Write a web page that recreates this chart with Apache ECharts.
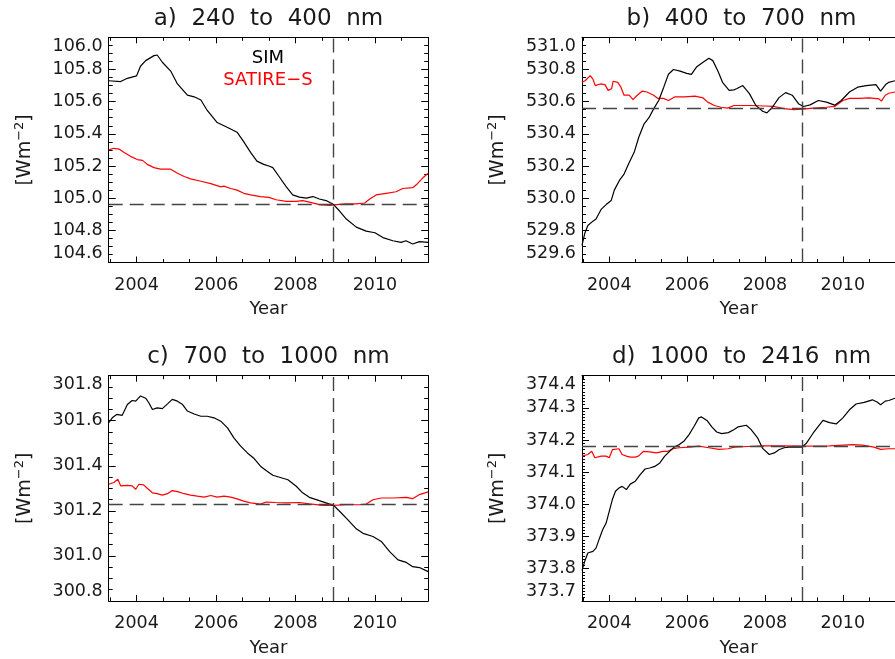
<!DOCTYPE html>
<html>
<head>
<meta charset="utf-8">
<script src="https://cdn.jsdelivr.net/npm/echarts@6.0.0/dist/echarts.min.js"></script>
<style>
html,body{margin:0;padding:0;background:#fff;}
#chart{width:895px;height:659px;}
</style>
</head>
<body>
<div id="chart"></div>
<script>
// ---------------- DATA ----------------
const panelTitles = ['a)  240  to  400  nm', 'b)  400  to  700  nm', 'c)  700  to  1000  nm', 'd)  1000  to  2416  nm'];
const seriesNames = ['SIM', 'SATIRE\u2212S'];
const xLabelYears = [2004, 2006, 2008, 2010];
const xMinorYears = [2003.333, 2004.667, 2005.333, 2006.667, 2007.333, 2008.667, 2009.333, 2010.667];
const xRange = [2003.3, 2011.34];
const yRanges = [[104.6, 106.0], [529.6, 531.0], [300.8, 301.8], [373.7, 374.4]];
const yIntervals = [0.2, 0.2, 0.2, 0.1];
const yMinorSplits = [4, 4, 4, 10];
const refYear = 2008.95;
const refValues = [104.962, 530.557, 301.229, 374.182];

// a) 240 to 400 nm
const aSimX = [2003.30,2003.60,2003.77,2004.00,2004.10,2004.23,2004.44,2004.52,2004.65,2004.86,2005.03,2005.28,2005.45,2005.62,2005.78,2006.03,2006.20,2006.37,2006.53,2006.70,2006.87,2007.03,2007.20,2007.33,2007.43,2007.60,2007.77,2007.93,2008.10,2008.27,2008.44,2008.60,2008.77,2008.96,2009.11,2009.28,2009.53,2009.78,2010.00,2010.20,2010.45,2010.66,2010.78,2010.95,2011.12,2011.34];
const aSimY = [105.73,105.725,105.745,105.76,105.82,105.855,105.886,105.89,105.845,105.79,105.71,105.64,105.63,105.61,105.545,105.47,105.45,105.43,105.41,105.35,105.285,105.23,105.21,105.20,105.19,105.13,105.07,105.02,105.006,105.0,105.01,104.995,104.985,104.96,104.92,104.87,104.82,104.795,104.785,104.755,104.735,104.725,104.735,104.715,104.73,104.725];
const aSatX = [2003.30,2003.43,2003.56,2003.68,2003.85,2004.02,2004.15,2004.27,2004.44,2004.60,2004.86,2005.03,2005.20,2005.36,2005.62,2005.87,2006.12,2006.20,2006.37,2006.53,2006.70,2006.87,2007.12,2007.33,2007.51,2007.77,2008.02,2008.18,2008.35,2008.60,2008.86,2009.03,2009.28,2009.53,2009.74,2009.87,2010.03,2010.28,2010.53,2010.70,2010.95,2011.07,2011.20,2011.34];
const aSatY = [105.30,105.31,105.305,105.285,105.26,105.24,105.235,105.21,105.19,105.18,105.18,105.155,105.135,105.12,105.105,105.09,105.07,105.075,105.06,105.05,105.03,105.02,105.01,105.005,104.99,104.98,104.98,104.985,104.975,104.96,104.955,104.96,104.965,104.965,104.97,104.995,105.02,105.03,105.04,105.06,105.065,105.09,105.125,105.155];

// b) 400 to 700 nm
const bSimX = [2003.30,2003.37,2003.45,2003.58,2003.66,2003.79,2003.92,2004.05,2004.13,2004.26,2004.38,2004.51,2004.64,2004.76,2004.89,2005.02,2005.14,2005.27,2005.40,2005.52,2005.65,2005.82,2005.99,2006.11,2006.24,2006.41,2006.56,2006.66,2006.79,2006.91,2007.08,2007.20,2007.27,2007.43,2007.60,2007.77,2007.94,2008.05,2008.19,2008.36,2008.53,2008.70,2008.87,2008.99,2009.16,2009.37,2009.58,2009.79,2009.96,2010.17,2010.38,2010.60,2010.85,2010.97,2011.10,2011.18,2011.34];
const bSimY = [529.706,529.78,529.83,529.857,529.87,529.93,529.96,529.985,530.05,530.11,530.15,530.22,530.285,530.38,530.46,530.50,530.555,530.607,530.69,530.77,530.80,530.79,530.776,530.77,530.815,530.845,530.87,530.855,530.79,530.72,530.67,530.673,530.68,530.70,530.65,530.575,530.54,530.53,530.565,530.625,530.656,530.64,530.585,530.57,530.58,530.607,530.597,530.578,530.607,530.66,530.69,530.70,530.706,530.665,530.706,530.72,530.73];
const bSatX = [2003.30,2003.38,2003.51,2003.58,2003.64,2003.77,2003.89,2003.97,2004.06,2004.10,2004.22,2004.30,2004.38,2004.51,2004.61,2004.72,2004.84,2004.97,2005.14,2005.25,2005.39,2005.52,2005.69,2005.94,2006.20,2006.41,2006.53,2006.70,2006.87,2007.04,2007.20,2007.39,2007.64,2007.98,2008.24,2008.49,2008.74,2008.95,2009.24,2009.58,2009.79,2010.00,2010.17,2010.42,2010.68,2010.93,2010.99,2011.09,2011.18,2011.34];
const bSatY = [530.72,530.73,530.762,530.74,530.70,530.71,530.706,530.67,530.68,530.727,530.72,530.69,530.64,530.64,530.613,530.64,530.665,530.66,530.64,530.62,530.62,530.607,530.63,530.63,530.634,530.623,530.597,530.576,530.565,530.56,530.576,530.576,530.576,530.573,530.57,530.557,530.55,530.553,530.56,530.565,530.57,530.607,530.62,530.62,530.623,530.617,530.603,530.64,530.652,530.66];

// c) 700 to 1000 nm
const cSimX = [2003.30,2003.39,2003.50,2003.64,2003.77,2003.89,2003.98,2004.10,2004.23,2004.31,2004.40,2004.52,2004.65,2004.78,2004.90,2005.03,2005.16,2005.28,2005.45,2005.62,2005.78,2005.95,2006.12,2006.29,2006.45,2006.62,2006.79,2006.96,2007.12,2007.26,2007.43,2007.60,2007.81,2008.02,2008.18,2008.35,2008.60,2008.86,2008.96,2009.11,2009.32,2009.53,2009.70,2009.95,2010.16,2010.37,2010.58,2010.79,2010.95,2011.12,2011.34];
const cSimY = [301.591,301.613,301.628,301.624,301.672,301.69,301.687,301.71,301.70,301.68,301.65,301.657,301.654,301.675,301.695,301.687,301.672,301.643,301.63,301.62,301.62,301.613,301.598,301.568,301.524,301.487,301.457,301.432,301.398,301.379,301.358,301.349,301.338,301.309,301.28,301.26,301.245,301.23,301.224,301.198,301.16,301.12,301.10,301.086,301.064,301.019,300.982,300.971,300.952,300.948,300.93];
const cSatX = [2003.30,2003.43,2003.53,2003.60,2003.77,2003.89,2003.98,2004.06,2004.18,2004.27,2004.40,2004.52,2004.65,2004.78,2004.90,2005.03,2005.20,2005.36,2005.53,2005.70,2005.87,2006.03,2006.20,2006.37,2006.53,2006.70,2006.87,2007.12,2007.26,2007.51,2007.77,2008.10,2008.35,2008.69,2008.94,2009.28,2009.61,2009.78,2009.95,2010.16,2010.45,2010.79,2010.95,2011.12,2011.34];
const cSatY = [301.318,301.326,301.34,301.311,301.313,301.311,301.296,301.318,301.315,301.30,301.28,301.276,301.27,301.276,301.29,301.285,301.276,301.27,301.265,301.261,301.268,301.261,301.265,301.261,301.253,301.243,301.235,301.23,301.239,301.237,301.235,301.237,301.231,301.224,301.224,301.227,301.227,301.23,301.249,301.257,301.257,301.26,301.254,301.272,301.284];

// d) 1000 to 2416 nm
const dSimX = [2003.30,2003.37,2003.45,2003.58,2003.66,2003.75,2003.83,2003.92,2004.00,2004.08,2004.16,2004.25,2004.33,2004.44,2004.54,2004.67,2004.79,2004.92,2005.04,2005.17,2005.30,2005.42,2005.55,2005.67,2005.80,2005.93,2006.05,2006.18,2006.30,2006.37,2006.51,2006.64,2006.76,2006.89,2007.06,2007.21,2007.31,2007.52,2007.64,2007.81,2007.94,2008.11,2008.24,2008.36,2008.49,2008.61,2008.78,2008.95,2009.07,2009.24,2009.41,2009.49,2009.66,2009.83,2010.00,2010.17,2010.34,2010.55,2010.76,2010.88,2010.97,2011.09,2011.18,2011.34];
const dSimY = [373.794,373.823,373.849,373.854,373.864,373.895,373.921,373.942,373.978,374.015,374.041,374.051,374.056,374.046,374.063,374.072,374.092,374.11,374.113,374.118,374.129,374.149,374.165,374.178,374.186,374.198,374.217,374.243,374.269,374.272,374.261,374.24,374.225,374.22,374.223,374.233,374.241,374.246,374.233,374.207,374.174,374.155,374.16,374.17,374.176,374.178,374.178,374.178,374.191,374.222,374.249,374.261,374.254,374.25,374.269,374.294,374.312,374.317,374.325,374.318,374.31,374.321,374.323,374.33];
const dSatX = [2003.30,2003.45,2003.55,2003.63,2003.79,2003.92,2004.00,2004.08,2004.25,2004.33,2004.44,2004.54,2004.67,2004.75,2004.88,2005.04,2005.21,2005.38,2005.51,2005.63,2005.80,2006.05,2006.30,2006.56,2006.81,2007.06,2007.21,2007.56,2007.98,2008.40,2008.95,2009.66,2010.25,2010.50,2010.80,2010.97,2011.18,2011.34];
const dSatY = [374.15,374.155,374.165,374.145,374.15,374.15,374.145,374.17,374.173,374.155,374.15,374.147,374.147,374.15,374.165,374.163,374.16,374.165,374.165,374.173,374.176,374.178,374.181,374.176,374.171,374.173,374.178,374.18,374.182,374.182,374.181,374.182,374.186,374.184,374.178,374.171,374.173,374.173];

// ---------------- LAYOUT / STYLE ----------------
const FONT = 'DejaVu Sans';
const TXT = '#1a1a1a';
const gridBoxes = [
  {left: 108.7, top: 37.3, width: 319.5}, {left: 582, top: 37.3, width: 321},
  {left: 108.7, top: 375.7, width: 319.5}, {left: 582, top: 375.7, width: 321}
];
const GH = 225.2;

const simData = [[aSimX, aSimY], [bSimX, bSimY], [cSimX, cSimY], [dSimX, dSimY]];
const satData = [[aSatX, aSatY], [bSatX, bSatY], [cSatX, cSatY], [dSatX, dSatY]];
const zip = (xs, ys) => xs.map((x, i) => [x, ys[i]]);

const grids = [], xAxes = [], yAxes = [], series = [], graphics = [];
const lineCol = '#000';

gridBoxes.forEach((g, i) => {
  const cutRight = i % 2 === 1;
  grids.push({left: g.left, top: g.top, width: g.width, height: GH, containLabel: false});
  const common = {type: 'value', gridIndex: i, min: xRange[0], max: xRange[1], splitLine: {show: false}};
  xAxes.push(Object.assign({}, common, {
    position: 'bottom',
    axisLine: {show: true, onZero: false, lineStyle: {color: lineCol, width: 1}},
    axisTick: {show: true, inside: true, length: 6, customValues: xLabelYears, lineStyle: {color: lineCol}},
    axisLabel: {show: true, customValues: xLabelYears, margin: 14, fontSize: 17.5, fontFamily: FONT, color: TXT,
      formatter: v => String(Math.round(v))},
    name: 'Year', nameLocation: 'middle', nameGap: 38,
    nameTextStyle: {fontSize: 18, fontFamily: FONT, color: TXT}
  }));
  xAxes.push(Object.assign({}, common, {
    position: 'bottom', axisLine: {show: false, onZero: false},
    axisTick: {show: true, inside: true, length: 3.5, customValues: xMinorYears, lineStyle: {color: lineCol}},
    axisLabel: {show: false}
  }));
  xAxes.push(Object.assign({}, common, {
    position: 'top',
    axisLine: {show: true, onZero: false, lineStyle: {color: lineCol, width: 1}},
    axisTick: {show: true, inside: true, length: 6, customValues: xLabelYears, lineStyle: {color: lineCol}},
    axisLabel: {show: false}
  }));
  xAxes.push(Object.assign({}, common, {
    position: 'top', axisLine: {show: false, onZero: false},
    axisTick: {show: true, inside: true, length: 3.5, customValues: xMinorYears, lineStyle: {color: lineCol}},
    axisLabel: {show: false}
  }));

  const yCommon = {
    type: 'value', gridIndex: i, min: yRanges[i][0], max: yRanges[i][1], interval: yIntervals[i],
    splitLine: {show: false}, minorSplitLine: {show: false},
    axisLine: {show: true, onZero: false, lineStyle: {color: lineCol, width: 1}},
    axisTick: {show: true, inside: true, length: 7, lineStyle: {color: lineCol}},
    minorTick: {show: true, splitNumber: yMinorSplits[i], length: yMinorSplits[i] > 5 ? 3 : 4, lineStyle: {color: lineCol}}
  };
  yAxes.push(Object.assign({}, yCommon, {
    position: 'left',
    axisLabel: {show: true, margin: 6, fontSize: 17.5, fontFamily: FONT, color: TXT,
      verticalAlignMinLabel: 'bottom', verticalAlignMaxLabel: 'top',
      formatter: v => v.toFixed(1)},
    name: '{a|[Wm}{b|\u22122}{a|]}', nameLocation: 'middle', nameRotate: 90, nameGap: 71,
    nameTextStyle: {fontSize: 19, fontFamily: FONT, color: TXT,
      rich: {a: {fontSize: 19, fontFamily: FONT, color: TXT, lineHeight: 25},
             b: {fontSize: 13, fontFamily: FONT, color: TXT, verticalAlign: 'top', lineHeight: 14}}}
  }));
  yAxes.push(Object.assign({}, yCommon, {
    position: 'right', axisLabel: {show: false},
    axisTick: Object.assign({}, yCommon.axisTick, {show: !cutRight}),
    minorTick: Object.assign({}, yCommon.minorTick, {show: !cutRight})
  }));

  const sd = simData[i], td = satData[i];
  series.push({
    name: seriesNames[0], type: 'line', xAxisIndex: 4 * i, yAxisIndex: 2 * i,
    data: zip(sd[0], sd[1]), showSymbol: false, symbol: 'none',
    lineStyle: {color: '#000', width: 1.2}, z: 3,
    markLine: {
      silent: true, symbol: 'none', label: {show: false}, animation: false,
      lineStyle: {type: [14, 7], color: '#444', width: 1.4},
      data: [{xAxis: refYear}, {yAxis: refValues[i]}]
    }
  });
  series.push({
    name: seriesNames[1], type: 'line', xAxisIndex: 4 * i, yAxisIndex: 2 * i,
    data: zip(td[0], td[1]), showSymbol: false, symbol: 'none',
    lineStyle: {color: '#ff0000', width: 1.2}, z: 2
  });

  const cx = i % 2 === 0 ? g.left + g.width / 2 : 741.5;
  const ty = i < 2 ? 18.7 : 356.7;
  graphics.push({
    type: 'text', x: cx, y: ty, silent: true,
    style: {text: panelTitles[i], font: '23px "DejaVu Sans"', fill: TXT,
      textAlign: 'center', textVerticalAlign: 'middle', align: 'center', verticalAlign: 'middle'}
  });
});

graphics.push({
  type: 'text', x: 268, y: 58.3, silent: true,
  style: {text: seriesNames[0], font: '18px "DejaVu Sans"', fill: '#000',
    textAlign: 'center', textVerticalAlign: 'middle', align: 'center', verticalAlign: 'middle'}
});
graphics.push({
  type: 'text', x: 268, y: 80.7, silent: true,
  style: {text: seriesNames[1], font: '18px "DejaVu Sans"', fill: '#ff0000',
    textAlign: 'center', textVerticalAlign: 'middle', align: 'center', verticalAlign: 'middle'}
});

const chart = echarts.init(document.getElementById('chart'), null, {renderer: 'canvas'});
chart.setOption({
  animation: false,
  backgroundColor: '#ffffff',
  grid: grids,
  xAxis: xAxes,
  yAxis: yAxes,
  series: series,
  graphic: graphics
});
</script>
</body>
</html>
